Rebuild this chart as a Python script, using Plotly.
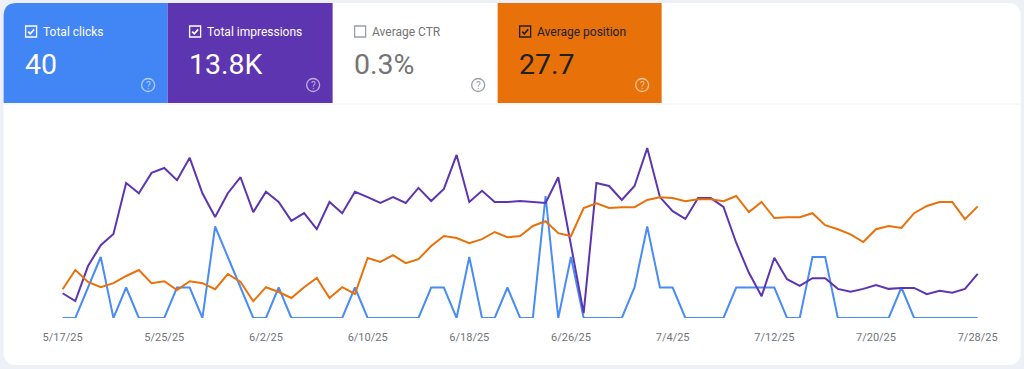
import pandas as pd
import plotly.graph_objects as go

# ---------------- data ----------------
dates = pd.date_range("2025-05-17", "2025-07-28", freq="D")

clicks = [0, 0, 1, 2, 0, 1, 0, 0, 0, 1,
          1, 0, 3, 2, 1, 0, 0, 1, 0, 0,
          0, 0, 0, 1, 0, 0, 0, 0, 0, 1,
          1, 0, 2, 0, 0, 1, 0, 0, 4, 0,
          2, 0, 0, 0, 0, 1, 3, 1, 1, 0,
          0, 0, 0, 1, 1, 1, 1, 0, 0, 2,
          2, 0, 0, 0, 0, 0, 1, 0, 0, 0,
          0, 0, 0]

impressions = [51, 35, 107, 150, 173, 278, 257, 299, 309, 284,
               330, 257, 208, 257, 290, 218, 260, 239, 200, 216,
               183, 239, 216, 260, 249, 237, 249, 237, 268, 241,
               266, 336, 239, 262, 239, 239, 241, 239, 237, 290,
               150, 10, 278, 272, 243, 272, 350, 249, 220, 204,
               247, 247, 229, 155, 93, 45, 124, 80, 66, 82,
               82, 60, 54, 60, 68, 60, 62, 62, 49, 56,
               52, 60, 91]

position = [39.8, 35.0, 38.0, 39.3, 38.3, 36.5, 35.0, 38.3, 37.8, 40.0,
            37.8, 38.3, 39.8, 36.0, 38.0, 42.8, 39.3, 40.5, 42.0, 39.3,
            37.0, 42.0, 39.3, 41.0, 32.0, 33.0, 31.3, 33.3, 32.3, 29.0,
            26.5, 27.0, 28.3, 27.3, 25.5, 26.8, 26.5, 24.0, 22.8, 25.8,
            26.5, 19.5, 18.3, 19.5, 19.3, 19.3, 17.5, 16.8, 17.0, 17.8,
            17.3, 17.3, 17.8, 16.5, 20.5, 18.0, 22.0, 21.8, 21.8, 20.8,
            23.8, 24.8, 26.1, 28.0, 24.8, 24.0, 24.5, 20.8, 19.0, 18.0,
            18.0, 22.3, 19.1]

tick_dates = ["2025-05-17", "2025-05-25", "2025-06-02", "2025-06-10", "2025-06-18",
              "2025-06-26", "2025-07-04", "2025-07-12", "2025-07-20", "2025-07-28"]
tick_labels = ["5/17/25", "5/25/25", "6/2/25", "6/10/25", "6/18/25",
               "6/26/25", "7/4/25", "7/12/25", "7/20/25", "7/28/25"]

card_labels = ["Total clicks", "Total impressions", "Average CTR", "Average position"]
card_values = ["40", "13.8K", "0.3%", "27.7"]
card_checked = [True, True, False, True]

# ---------------- styling ----------------
W, H = 1024, 369
BLUE = "#4285f4"
PURPLE = "#5e35b1"
ORANGE = "#e8710a"
PAGE_BG = "#edf1f7"
FONT = "Roboto"

card_fill = [BLUE, PURPLE, "#ffffff", ORANGE]
card_text = ["#ffffff", "#ffffff", "#757575", "#202124"]
card_value_text = ["#ffffff", "#ffffff", "#757575", "#202124"]
card_x0 = [3, 167, 332, 497]
card_x1 = [167, 332, 497, 661]
CARD_Y0, CARD_Y1 = 3, 103

# the captured page is squeezed horizontally a little (measured: out = 6.4 + 0.98625*x),
# so target pixel positions are mapped back before converting to paper units
SX, OX = 0.98625, 6.4


def px(x):
    return ((x - OX) / SX) / W


def py(y):
    return 1 - y / H


def rrect_path(x0, y0, x1, y1, r, tl=True, tr=True, br=True, bl=True):
    def P(x, y):
        return f"{px(x):.5f},{py(y):.5f}"
    s = f"M{P(x0 + (r if tl else 0), y0)}"
    s += f" L{P(x1 - (r if tr else 0), y0)}"
    if tr:
        s += f" Q{P(x1, y0)} {P(x1, y0 + r)}"
    s += f" L{P(x1, y1 - (r if br else 0))}"
    if br:
        s += f" Q{P(x1, y1)} {P(x1 - r, y1)}"
    s += f" L{P(x0 + (r if bl else 0), y1)}"
    if bl:
        s += f" Q{P(x0, y1)} {P(x0, y1 - r)}"
    s += f" L{P(x0, y0 + (r if tl else 0))}"
    if tl:
        s += f" Q{P(x0, y0)} {P(x0 + r, y0)}"
    s += " Z"
    return s


fig = go.Figure()

fig.add_trace(go.Scatter(x=dates, y=clicks, mode="lines", yaxis="y",
                         line=dict(color="#4a8cf5", width=2), hoverinfo="skip"))
fig.add_trace(go.Scatter(x=dates, y=position, mode="lines", yaxis="y3",
                         line=dict(color=ORANGE, width=2), hoverinfo="skip"))
fig.add_trace(go.Scatter(x=dates, y=impressions, mode="lines", yaxis="y2",
                         line=dict(color=PURPLE, width=2), hoverinfo="skip"))

shapes = []
annotations = []

# full-bleed background + white panel
shapes.append(dict(type="rect", xref="paper", yref="paper",
                   x0=px(-20), x1=px(1044), y0=0, y1=1,
                   fillcolor=PAGE_BG, line=dict(width=0), layer="below"))
shapes.append(dict(type="path", xref="paper", yref="paper",
                   path=rrect_path(3, 3, 1020, 365, 13),
                   fillcolor="#ffffff", line=dict(width=0), layer="below"))

for i in range(4):
    x0, x1 = card_x0[i], card_x1[i]
    if card_fill[i] != "#ffffff":
        shapes.append(dict(type="path", xref="paper", yref="paper",
                           path=rrect_path(x0, CARD_Y0, x1, CARD_Y1, 13 if i == 0 else 0.01,
                                           tl=(i == 0), tr=False, br=False, bl=False),
                           fillcolor=card_fill[i], line=dict(width=0), layer="below"))
    cx0 = x0 + 22
    cy0 = 26
    box_col = card_text[i] if i != 2 else "#9aa0a6"
    shapes.append(dict(type="rect", xref="paper", yref="paper",
                       x0=px(cx0), x1=px(cx0 + 11), y0=py(cy0 + 11), y1=py(cy0),
                       line=dict(color=box_col, width=1.3), fillcolor="rgba(0,0,0,0)"))
    if card_checked[i]:
        shapes.append(dict(type="path", xref="paper", yref="paper",
                           path=f"M{px(cx0 + 2.6):.5f},{py(cy0 + 5.6):.5f} L{px(cx0 + 4.7):.5f},{py(cy0 + 7.8):.5f} L{px(cx0 + 8.6):.5f},{py(cy0 + 3.4):.5f}",
                           line=dict(color=card_text[i], width=1.6)))
    annotations.append(dict(text=card_labels[i], xref="paper", yref="paper",
                            x=px(cx0 + 15), y=py(32), xanchor="left", yanchor="middle",
                            showarrow=False, font=dict(family=FONT, size=12, color=card_text[i])))
    annotations.append(dict(text=card_values[i], xref="paper", yref="paper",
                            x=px(cx0 - 2.5), y=py(64.5), xanchor="left", yanchor="middle",
                            showarrow=False, font=dict(family=FONT, size=28.5, color=card_value_text[i])))
    hx, hy = x1 - 19.5, 85
    help_col = "#9aa0a6" if i == 2 else "rgba(255,255,255,0.6)"
    shapes.append(dict(type="circle", xref="paper", yref="paper",
                       x0=px(hx - 6.5), x1=px(hx + 6.5), y0=py(hy + 6.5), y1=py(hy - 6.5),
                       line=dict(color=help_col, width=1.3), fillcolor="rgba(0,0,0,0)"))
    annotations.append(dict(text="?", xref="paper", yref="paper",
                            x=px(hx), y=py(hy), xanchor="center", yanchor="middle",
                            showarrow=False, font=dict(family=FONT, size=10, color=help_col)))

# faint divider under the cards
shapes.append(dict(type="line", xref="paper", yref="paper",
                   x0=px(3), x1=px(1020), y0=py(104), y1=py(104),
                   line=dict(color="#eef0f4", width=1)))

PLOT_TOP, PLOT_BOTTOM = 130, 318
ydom = [py(PLOT_BOTTOM), py(PLOT_TOP)]
span = PLOT_BOTTOM - PLOT_TOP

hidden = dict(visible=False, showgrid=False, zeroline=False, fixedrange=True)

fig.update_layout(
    width=W, height=H,
    margin=dict(l=0, r=0, t=0, b=0),
    paper_bgcolor=PAGE_BG,
    plot_bgcolor="rgba(0,0,0,0)",
    showlegend=False,
    shapes=shapes,
    annotations=annotations,
    xaxis=dict(domain=[px(62 - 12.7), px(977 + 12.7)],
               range=["2025-05-16", "2025-07-29"],
               type="date", showgrid=False, zeroline=False, showline=False,
               tickvals=tick_dates, ticktext=tick_labels,
               ticks="outside", ticklen=9, tickcolor="rgba(0,0,0,0)",
               tickfont=dict(family=FONT, size=11, color="#70757a")),
    yaxis=dict(domain=ydom, range=[0, span / 30.5], **hidden),
    yaxis2=dict(domain=ydom, range=[0, span * 2.06], overlaying="y", **hidden),
    yaxis3=dict(domain=ydom, range=[span / 4, 0], overlaying="y", **hidden),
)

fig.write_html(
    "out.html",
    config={"displayModeBar": False},
    post_script=(
        "var de=document.documentElement, b=document.body;"
        "de.style.margin='0';de.style.padding='0';de.style.overflow='hidden';de.style.background='" + PAGE_BG + "';"
        "b.style.margin='0';b.style.padding='0';b.style.overflow='hidden';b.style.background='" + PAGE_BG + "';"
    ),
)
